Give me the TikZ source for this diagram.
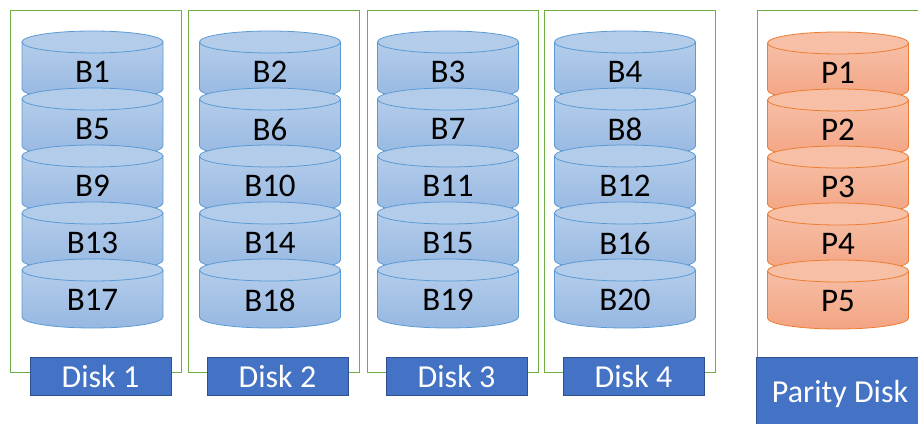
\documentclass[tikz,border=0pt]{standalone}
\usepackage{fontspec}
\setmainfont{Carlito}
\definecolor{bstroke}{HTML}{5B9BD5}
\definecolor{btop}{HTML}{B3CCEA}
\definecolor{bbot}{HTML}{97B8E2}
\definecolor{ostroke}{HTML}{ED7D31}
\definecolor{otop}{HTML}{F6BFA6}
\definecolor{obot}{HTML}{F3A483}
\definecolor{lblue}{HTML}{4472C4}
\definecolor{lborder}{HTML}{2F528F}
\definecolor{gframe}{HTML}{70AD47}
\newcommand\mycyl[6]{%
  \path[draw=#3, line width=0.8pt, top color=#4, bottom color=#5]
    (#1-70.5,#2) -- (#1-70.5,#2+47) arc[start angle=180, end angle=360, x radius=70.5pt, y radius=11pt]
    -- (#1+70.5,#2) -- cycle;
  \path[draw=#3, line width=0.8pt, fill=#4] (#1,#2) ellipse[x radius=70.5pt, y radius=11pt];
  \node[blocktext] (n#6) at (#1,#2+30) {#6};
}
\begin{document}
\begin{tikzpicture}[x=1pt,y=-1pt,
  blocktext/.style={font=\fontsize{33}{33}\selectfont, text=black, inner sep=0pt},
  framebox/.style={draw=gframe, line width=1pt},
  disklabel/.style={draw=lborder, line width=0.8pt, fill=lblue},
  labeltext/.style={text=white, font=\fontsize{32}{32}\selectfont, inner sep=0pt}]
\useasboundingbox (0,0) rectangle (918,423);
% frames
\foreach \fx/\i in {10/1,188/2,367/3,544/4}{
  \draw[framebox] (\fx,10) rectangle (\fx+171,372);
}
\draw[framebox] (918,10) -- (757,10) -- (757,357);
% data cylinders
\foreach \cx/\d in {92.5/1,270/2,448/3,625/4}{
  \foreach \r in {0,...,4}{
    \pgfmathtruncatemacro\num{\d+4*\r}
    \pgfmathsetmacro\yt{42+57*\r}
    \mycyl{\cx}{\yt}{bstroke}{btop}{bbot}{B\num}
  }
}
% parity cylinders
\foreach \r in {0,...,4}{
  \pgfmathtruncatemacro\num{1+\r}
  \pgfmathsetmacro\yt{43+57*\r}
  \mycyl{838}{\yt}{ostroke}{otop}{obot}{P\num}
}
% labels
\foreach \lx/\i in {30/1,207/2,386/3,563/4}{
  \draw[disklabel] (\lx,357) rectangle (\lx+141,395);
  \node[labeltext] (lab\i) at (\lx+70.5,377) {Disk \i};
}
\draw[disklabel] (756,357) rectangle (930,430);
\node[labeltext] (labp) at (840,394) {Parity Disk};
\end{tikzpicture}
\end{document}
